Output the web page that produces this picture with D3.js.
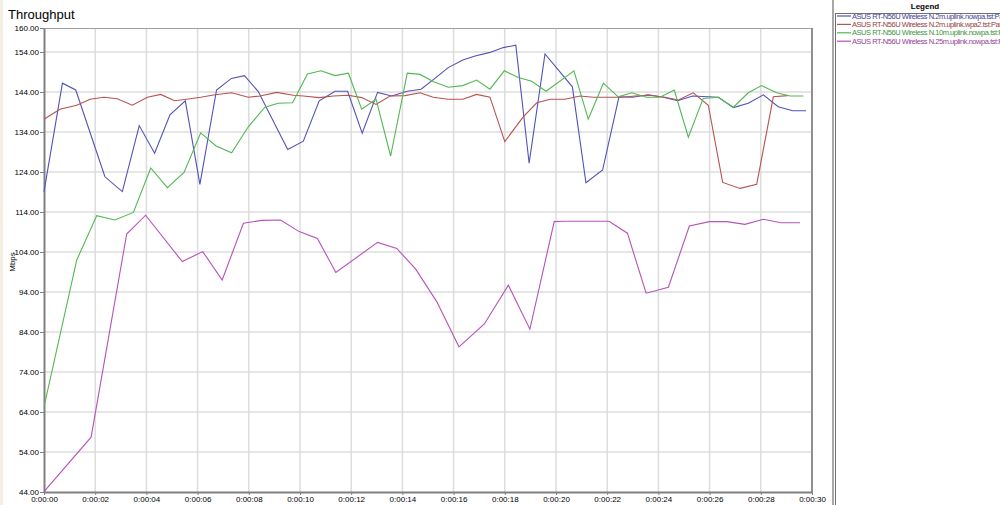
<!DOCTYPE html>
<html>
<head>
<meta charset="utf-8">
<script src="https://cdn.jsdelivr.net/npm/d3@7"></script>
<style>
  body { margin: 0; background: #fff; }
  svg { display: block; font-family: "Liberation Sans", Arial, sans-serif; }
</style>
</head>
<body>
<div id="chart"></div>
<script>
const W = 1000, H = 505
const plot = { left: 44, right: 812, top: 28, bottom: 492 }

// x tick values (seconds) and y tick values (Mbps)
const xTicks = [0, 2, 4, 6, 8, 10, 12, 14, 16, 18, 20, 22, 24, 26, 28, 30]
const yTicks = [44, 54, 64, 74, 84, 94, 104, 114, 124, 134, 144, 154, 160]

const names = [
  "ASUS RT-N56U Wireless N.2m.uplink.nowpa.tst:Pair 1",
  "ASUS RT-N56U Wireless N.2m.uplink.wpa2.tst:Pair 1",
  "ASUS RT-N56U Wireless N.10m.uplink.nowpa.tst:Pair 1",
  "ASUS RT-N56U Wireless N.25m.uplink.nowpa.tst:Pair 1"
]
const colors = ["#5252b8", "#b85252", "#52b852", "#b652ba"]

// blue - 2m nowpa
const tBlue = [0, 0.72, 1.24, 2.38, 3.06, 3.72, 4.32, 4.92, 5.52, 6.09, 6.74, 7.32, 7.83, 8.37, 9.52, 10.13, 10.75, 11.37, 11.86, 12.43, 13.03, 13.58, 14.19, 14.73, 15.27, 15.79, 16.36, 16.84, 17.42, 17.94, 18.43, 18.95, 19.57, 20.64, 21.17, 21.82, 22.46, 22.99, 23.6, 24.19, 24.75, 25.34, 26.34, 26.93, 27.51, 28.1, 28.68, 29.25, 29.77]
const vBlue = [119.1, 146.2, 144.5, 122.8, 119.1, 135.6, 128.7, 138.3, 141.8, 120.9, 144.5, 147.4, 148.1, 144.1, 129.6, 131.7, 141.8, 144.2, 144.2, 133.7, 143.9, 143.0, 144.2, 144.7, 147.4, 150.1, 152.0, 153.0, 153.9, 155.1, 155.7, 126.2, 153.5, 145.3, 121.3, 124.5, 142.8, 142.7, 143.3, 142.7, 141.8, 143.0, 142.7, 140.1, 141.2, 143.3, 140.3, 139.3, 139.3]

// red - 2m wpa2
const tRed = [0, 0.62, 1.28, 1.8, 2.34, 2.86, 3.45, 4.04, 4.56, 5.1, 5.57, 6.12, 6.68, 7.33, 7.98, 8.44, 9.09, 9.74, 10.13, 10.75, 11.3, 11.89, 12.41, 12.97, 13.52, 14.1, 14.69, 15.2, 15.79, 16.36, 16.9, 17.42, 18.0, 18.72, 19.25, 19.77, 20.35, 20.94, 21.46, 22.04, 22.57, 23.09, 23.67, 24.26, 24.78, 25.36, 25.95, 26.51, 27.19, 27.84, 28.49, 29.05]
const vRed = [137.2, 139.7, 140.7, 142.2, 142.7, 142.3, 140.7, 142.7, 143.4, 141.8, 142.2, 142.7, 143.3, 143.8, 142.7, 143.0, 143.9, 143.2, 143.0, 142.6, 143.0, 143.2, 142.6, 140.9, 143.0, 143.1, 143.8, 142.7, 142.2, 142.2, 143.4, 142.7, 131.6, 137.8, 141.3, 142.2, 142.2, 143.0, 142.7, 142.7, 142.7, 143.0, 143.2, 142.7, 142.0, 143.8, 140.7, 121.4, 119.9, 120.9, 142.8, 143.1]

// green - 10m nowpa
const tGreen = [0, 1.28, 2.06, 2.77, 3.49, 4.17, 4.82, 5.47, 6.12, 6.72, 7.33, 7.98, 8.63, 9.15, 9.71, 10.29, 10.82, 11.37, 11.89, 12.41, 12.97, 13.54, 14.19, 14.69, 15.2, 15.79, 16.36, 16.9, 17.42, 17.98, 18.53, 19.05, 19.61, 20.7, 21.26, 21.85, 22.43, 22.96, 23.54, 24.06, 24.62, 25.17, 25.75, 26.34, 26.93, 27.51, 28.03, 28.62, 29.14, 29.66]
const vGreen = [65.3, 102.0, 113.1, 112.0, 113.9, 125.0, 120.1, 123.9, 133.8, 130.5, 128.8, 135.3, 140.2, 141.2, 141.3, 148.5, 149.3, 148.1, 148.7, 139.7, 142.2, 128.0, 148.7, 148.4, 146.6, 145.2, 145.6, 147.0, 144.7, 149.3, 147.6, 146.7, 144.2, 149.3, 137.2, 146.2, 142.8, 143.8, 142.7, 142.7, 144.5, 132.7, 142.4, 142.7, 140.2, 143.8, 145.6, 143.8, 143.0, 143.0]

// purple - 25m nowpa
const tPurple = [0, 1.84, 3.23, 3.97, 5.4, 6.2, 6.96, 7.79, 8.5, 9.24, 9.97, 10.68, 11.4, 13.03, 13.78, 14.52, 15.34, 16.21, 17.2, 18.14, 18.98, 19.93, 20.29, 22.07, 22.79, 23.52, 24.39, 25.21, 25.99, 26.67, 27.38, 28.1, 28.79, 29.53]
const vPurple = [44.1, 57.7, 108.5, 113.2, 101.6, 104.1, 97.0, 111.2, 111.9, 112.0, 109.1, 107.4, 98.9, 106.4, 104.9, 99.7, 91.6, 80.3, 86.0, 95.7, 84.7, 111.6, 111.7, 111.7, 108.7, 93.7, 95.2, 110.5, 111.6, 111.6, 110.9, 112.2, 111.3, 111.3]

const series = [
  { t: tBlue, v: vBlue },
  { t: tRed, v: vRed },
  { t: tGreen, v: vGreen },
  { t: tPurple, v: vPurple }
]

const svg = d3.select("#chart").append("svg")
  .attr("width", W)
  .attr("height", H)

const x = d3.scaleLinear().domain([0, 30]).range([plot.left, plot.right])
const y = d3.scaleLinear().domain([44, 160]).range([plot.bottom, plot.top])

// faint left edge
svg.append("rect").attr("x", 0).attr("y", 0).attr("width", 3).attr("height", H).attr("fill", "#f3efe2")

// title
svg.append("text")
  .attr("x", 8).attr("y", 19)
  .style("font-size", "13px")
  .text("Throughput")

// grid
const grid = svg.append("g")
grid.selectAll(".vg")
  .data(xTicks.slice(1, -1))
  .enter().append("line")
    .attr("x1", d => x(d)).attr("x2", d => x(d))
    .attr("y1", plot.top).attr("y2", plot.bottom)
    .attr("stroke", "#dcdcdc").attr("stroke-width", 1.5)
grid.selectAll(".hg")
  .data(yTicks.slice(1, -1))
  .enter().append("line")
    .attr("x1", plot.left).attr("x2", plot.right)
    .attr("y1", d => y(d)).attr("y2", d => y(d))
    .attr("stroke", "#dcdcdc").attr("stroke-width", 1.5)

// frame top/right
svg.append("line")
  .attr("x1", plot.left).attr("x2", plot.right)
  .attr("y1", plot.top + 0.5).attr("y2", plot.top + 0.5)
  .attr("stroke", "#a0a0a0")
svg.append("line")
  .attr("x1", plot.right).attr("x2", plot.right)
  .attr("y1", plot.top).attr("y2", plot.bottom)
  .attr("stroke", "#909090").attr("stroke-width", 2)

// axes
const xAxis = svg.append("g")
  .attr("transform", "translate(0," + plot.bottom + ")")
  .call(d3.axisBottom(x).tickValues(xTicks).tickSize(3).tickSizeOuter(0)
    .tickFormat(d => "0:00:" + String(d).padStart(2, "0")))
const yAxis = svg.append("g")
  .attr("transform", "translate(" + plot.left + ",0)")
  .call(d3.axisLeft(y).tickValues(yTicks).tickSize(4).tickSizeOuter(0)
    .tickFormat(d3.format(".2f")))

;[xAxis, yAxis].forEach(a => {
  a.select(".domain").attr("stroke", "#808080").attr("stroke-width", 2)
  a.selectAll(".tick line").attr("stroke", "#808080")
  a.selectAll(".tick text")
    .style("font-size", "8px")
    .style("font-family", "'Liberation Sans', Arial, sans-serif")
    .attr("fill", "#000")
})
xAxis.selectAll(".tick text").attr("dy", "0.45em")
yAxis.selectAll(".tick text").attr("dy", "0.35em").attr("x", -5)

// y label
svg.append("text")
  .attr("transform", "translate(15,262) rotate(-90)")
  .attr("text-anchor", "middle")
  .style("font-size", "8px")
  .text("Mbps")

// lines
const line = d3.line()
  .x(d => x(d[0]))
  .y(d => y(d[1]))

svg.append("g")
  .selectAll("path")
  .data(series)
  .enter().append("path")
    .attr("d", s => line(s.t.map((t, i) => [t, s.v[i]])))
    .attr("fill", "none")
    .attr("stroke", (s, i) => colors[i])
    .attr("stroke-width", 1.1)

// separator between chart and legend
svg.append("rect")
  .attr("x", 832).attr("y", 0).attr("width", 2).attr("height", H)
  .attr("fill", "#a8a8a8")

// legend
svg.append("text")
  .attr("x", 925).attr("y", 9)
  .attr("text-anchor", "middle")
  .style("font-size", "8px")
  .style("font-weight", "bold")
  .text("Legend")

svg.append("rect")
  .attr("x", 835.5).attr("y", 13.5).attr("width", 170).attr("height", H)
  .attr("fill", "#fff").attr("stroke", "#707070")

const legend = svg.append("g").attr("transform", "translate(837, 16)")
legend.selectAll("line")
  .data(names)
  .enter().append("line")
    .attr("x1", 0).attr("x2", 14)
    .attr("y1", (d, i) => i * 8.4).attr("y2", (d, i) => i * 8.4)
    .attr("stroke", (d, i) => colors[i])
    .attr("stroke-width", 1.2)
legend.selectAll("text")
  .data(names)
  .enter().append("text")
    .attr("x", 15)
    .attr("y", (d, i) => i * 8.4)
    .attr("dy", "0.35em")
    .attr("fill", (d, i) => d3.color(colors[i]).darker(0.6))
    .style("font-size", "7.5px")
    .style("letter-spacing", "-0.45px")
    .text(d => d)
</script>
</body>
</html>
